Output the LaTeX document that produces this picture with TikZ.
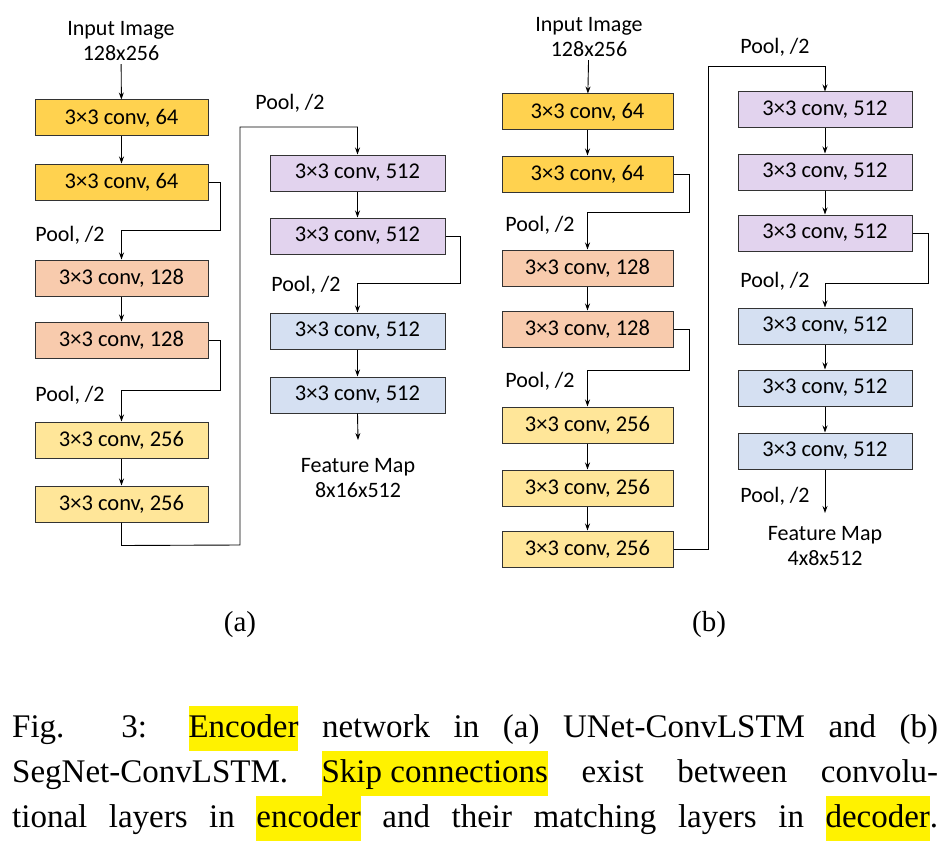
\documentclass[tikz,border=0pt]{standalone}
\usepackage{fontspec}
\setmainfont{Liberation Serif}
\newfontfamily\diag{Carlito}
\newfontfamily\capf{Liberation Serif}
\usetikzlibrary{arrows.meta}
\definecolor{cgold}{HTML}{FFD24F}
\definecolor{csal}{HTML}{F8CBAD}
\definecolor{cyel}{HTML}{FFE699}
\definecolor{cpur}{HTML}{E2D3EE}
\definecolor{cblu}{HTML}{D5E0F2}
\newcommand{\hlt}[1]{{\setlength{\fboxsep}{0pt}\colorbox{yellow}{\capf\strut #1}}}
\begin{document}
\begin{tikzpicture}[x=1pt,y=-1pt,
  bx/.style={draw=black!80,line width=1pt,minimum height=36pt,inner sep=0pt,font=\diag\fontsize{22.5}{26}\selectfont},
  ba/.style={bx,minimum width=173pt},
  bb/.style={bx,minimum width=171pt},
  lb/.style={font=\diag\fontsize{22}{24}\selectfont,align=center},
  ar/.style={line width=0.9pt,-{Stealth[length=7pt,width=5pt]}}]
\useasboundingbox (0,0) rectangle (950,848);
% (a)
\node[lb] (ina) at (121,41) {Input Image\\[1pt]128x256};
\node[ba,fill=cgold] (a1) at (121.5,118) {3×3 conv, 64};
\node[ba,fill=cgold] (a2) at (121.5,182) {3×3 conv, 64};
\node[ba,fill=csal] (a3) at (121.5,278) {3×3 conv, 128};
\node[ba,fill=csal] (a4) at (121.5,340) {3×3 conv, 128};
\node[ba,fill=cyel] (a5) at (121.5,440) {3×3 conv, 256};
\node[ba,fill=cyel] (a6) at (121.5,504) {3×3 conv, 256};
\node[ba,fill=cpur,minimum width=175pt] (d1) at (357.5,173) {3×3 conv, 512};
\node[ba,fill=cpur,minimum width=175pt] (d2) at (357.5,236) {3×3 conv, 512};
\node[ba,fill=cblu,minimum width=175pt] (d3) at (357.5,331) {3×3 conv, 512};
\node[ba,fill=cblu,minimum width=175pt] (d4) at (357.5,395) {3×3 conv, 512};
\node[lb] (fma) at (358,478) {Feature Map\\[1pt]8x16x512};
\node[lb] (pa1) at (70,235) {Pool, /2};
\node[lb] (pa2) at (70,395) {Pool, /2};
\node[lb] (pa3) at (290,103) {Pool, /2};
\node[lb] (pa4) at (306,285) {Pool, /2};
\coordinate (ea) at (358,440);
\draw[ar] (ina) -- (a1);
\draw[ar] (a1) -- (a2);
\draw[ar] (a2.east) -- ++(12,0) -- ++(0,48) -| (a3.north);
\draw[ar] (a3) -- (a4);
\draw[ar] (a4.east) -- ++(12,0) -- ++(0,50) -| (a5.north);
\draw[ar] (a5) -- (a6);
\draw[ar] (a6.south) -- ++(0,23) -- (240,545) -- (240,127) -| (d1.north);
\draw[ar] (d1) -- (d2);
\draw[ar] (d2.east) -- ++(15,0) -- ++(0,47) -| (d3.north);
\draw[ar] (d3) -- (d4);
\draw[ar] (d4.south) -- (ea);
% (b)
\node[lb] (inb) at (589,37) {Input Image\\[1pt]128x256};
\node[bb,fill=cgold] (b1) at (587.5,112) {3×3 conv, 64};
\node[bb,fill=cgold] (b2) at (587.5,174) {3×3 conv, 64};
\node[bb,fill=csal] (b3) at (587.5,268) {3×3 conv, 128};
\node[bb,fill=csal] (b4) at (587.5,329) {3×3 conv, 128};
\node[bb,fill=cyel] (b5) at (587.5,425) {3×3 conv, 256};
\node[bb,fill=cyel] (b6) at (587.5,488) {3×3 conv, 256};
\node[bb,fill=cyel] (b7) at (587.5,549) {3×3 conv, 256};
\node[bx,minimum width=174pt,fill=cpur] (c1) at (825,110) {3×3 conv, 512};
\node[bx,minimum width=174pt,fill=cpur] (c2) at (825,172) {3×3 conv, 512};
\node[bx,minimum width=174pt,fill=cpur] (c3) at (825,233) {3×3 conv, 512};
\node[bx,minimum width=174pt,fill=cblu] (c4) at (825,326) {3×3 conv, 512};
\node[bx,minimum width=174pt,fill=cblu] (c5) at (825,388) {3×3 conv, 512};
\node[bx,minimum width=174pt,fill=cblu] (c6) at (825,451) {3×3 conv, 512};
\node[lb] (fmb) at (825,546) {Feature Map\\[1pt]4x8x512};
\node[lb] (pb1) at (540,225) {Pool, /2};
\node[lb] (pb2) at (540,381) {Pool, /2};
\node[lb] (pb3) at (775,47) {Pool, /2};
\node[lb] (pb4) at (775,281) {Pool, /2};
\node[lb] (pb5) at (775,496) {Pool, /2};
\coordinate (eb) at (825,513);
\draw[ar] (inb) -- (b1);
\draw[ar] (b1) -- (b2);
\draw[ar] (b2.east) -- ++(16,0) -- ++(0,38) -| (b3.north);
\draw[ar] (b3) -- (b4);
\draw[ar] (b4.east) -- ++(16,0) -- ++(0,41) -| (b5.north);
\draw[ar] (b5) -- (b6);
\draw[ar] (b6) -- (b7);
\draw[ar] (b7.east) -- (708,549) -- (708,66) -| (c1.north);
\draw[ar] (c1) -- (c2);
\draw[ar] (c2) -- (c3);
\draw[ar] (c3.east) -- ++(16,0) -- ++(0,50) -| (c4.north);
\draw[ar] (c4) -- (c5);
\draw[ar] (c5) -- (c6);
\draw[ar] (c6.south) -- (eb);
% labels
\node[font=\fontsize{29}{32}\selectfont] (la) at (240,625) {(a)};
\node[font=\fontsize{29}{32}\selectfont] (lbb) at (709,625) {(b)};
\node[anchor=north west,inner sep=0pt,align=left,font=\capf\fontsize{33}{45}\selectfont] (cap) at (12,706)
 {\hbox to 926pt{Fig. 3: \hlt{Encoder} network in (a) UNet-ConvLSTM and (b)}\\
  \hbox to 926pt{SegNet-ConvLSTM. \hlt{Skip connections} exist between convolu-}\\
  \hbox to 926pt{tional layers in \hlt{encoder} and their matching layers in \hlt{decoder}.}};
\end{tikzpicture}
\end{document}
